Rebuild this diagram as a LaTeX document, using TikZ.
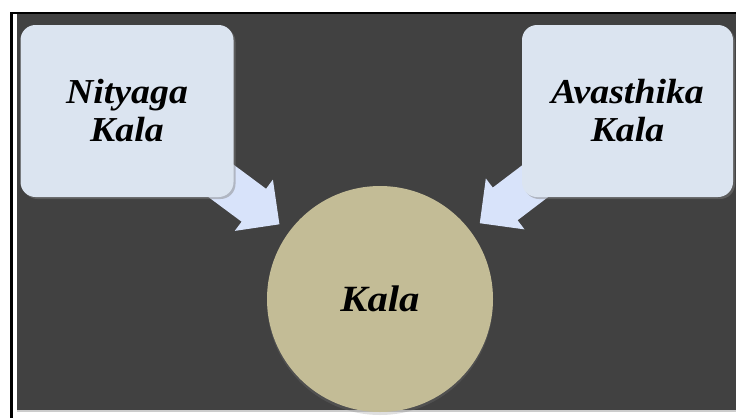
\documentclass[tikz,border=0pt]{standalone}
\usepackage{fontspec}
\setmainfont{Liberation Serif}
\usetikzlibrary{arrows.meta,shadows}
\definecolor{bgdark}{HTML}{414141}
\definecolor{boxfill}{HTML}{DBE4F0}
\definecolor{arrfill}{HTML}{D8E3FA}
\definecolor{circfill}{HTML}{C3BC96}
\pgfdeclarelayer{back}
\pgfdeclarelayer{arrowlayer}
\pgfsetlayers{back,arrowlayer,main}
\tikzset{
  srcbox/.style={draw=none, fill=boxfill, rounded corners=15pt, minimum width=213pt, minimum height=172pt,
    align=center, font=\fontsize{35}{38}\selectfont\bfseries\itshape\addfontfeature{FakeStretch=1.08}, inner sep=0pt,
    drop shadow={opacity=0.45, shadow xshift=2pt, shadow yshift=-2pt}},
  hub/.style={circle, fill=circfill, minimum size=226pt, inner sep=0pt,
    font=\fontsize{37}{40}\selectfont\bfseries\itshape\addfontfeature{FakeStretch=1.1},
    drop shadow={opacity=0.25, shadow xshift=0pt, shadow yshift=-3pt}},
  blockarrow/.style={draw=arrfill, line width=41pt, -{Triangle[length=32pt,width=62pt,fill=arrfill]}, shorten >=12pt}
}
\begin{document}
\begin{tikzpicture}[x=1pt,y=-1pt]
\useasboundingbox (0,0) rectangle (736,418);
\begin{pgfonlayer}{back}
  \fill[white] (0,0) rectangle (736,418);
  \fill[black] (10,12) rectangle (736,14);
  \fill[black] (10,12) rectangle (13,418);
  \fill[bgdark] (17,14) rectangle (736,410);
  \fill[gray!40] (17,410) rectangle (736,411.5);
\end{pgfonlayer}
\node[srcbox] (nit) at (127,111) {Nityaga\\Kala};
\node[srcbox, minimum width=211pt] (ava) at (627.5,111) {Avasthika\\Kala};
\node[hub] (kala) at (380,299) {Kala};
\begin{pgfonlayer}{arrowlayer}
  \draw[blockarrow] (nit.center) -- (kala);
  \draw[blockarrow] (ava.center) -- (kala);
\end{pgfonlayer}
\end{tikzpicture}
\end{document}
